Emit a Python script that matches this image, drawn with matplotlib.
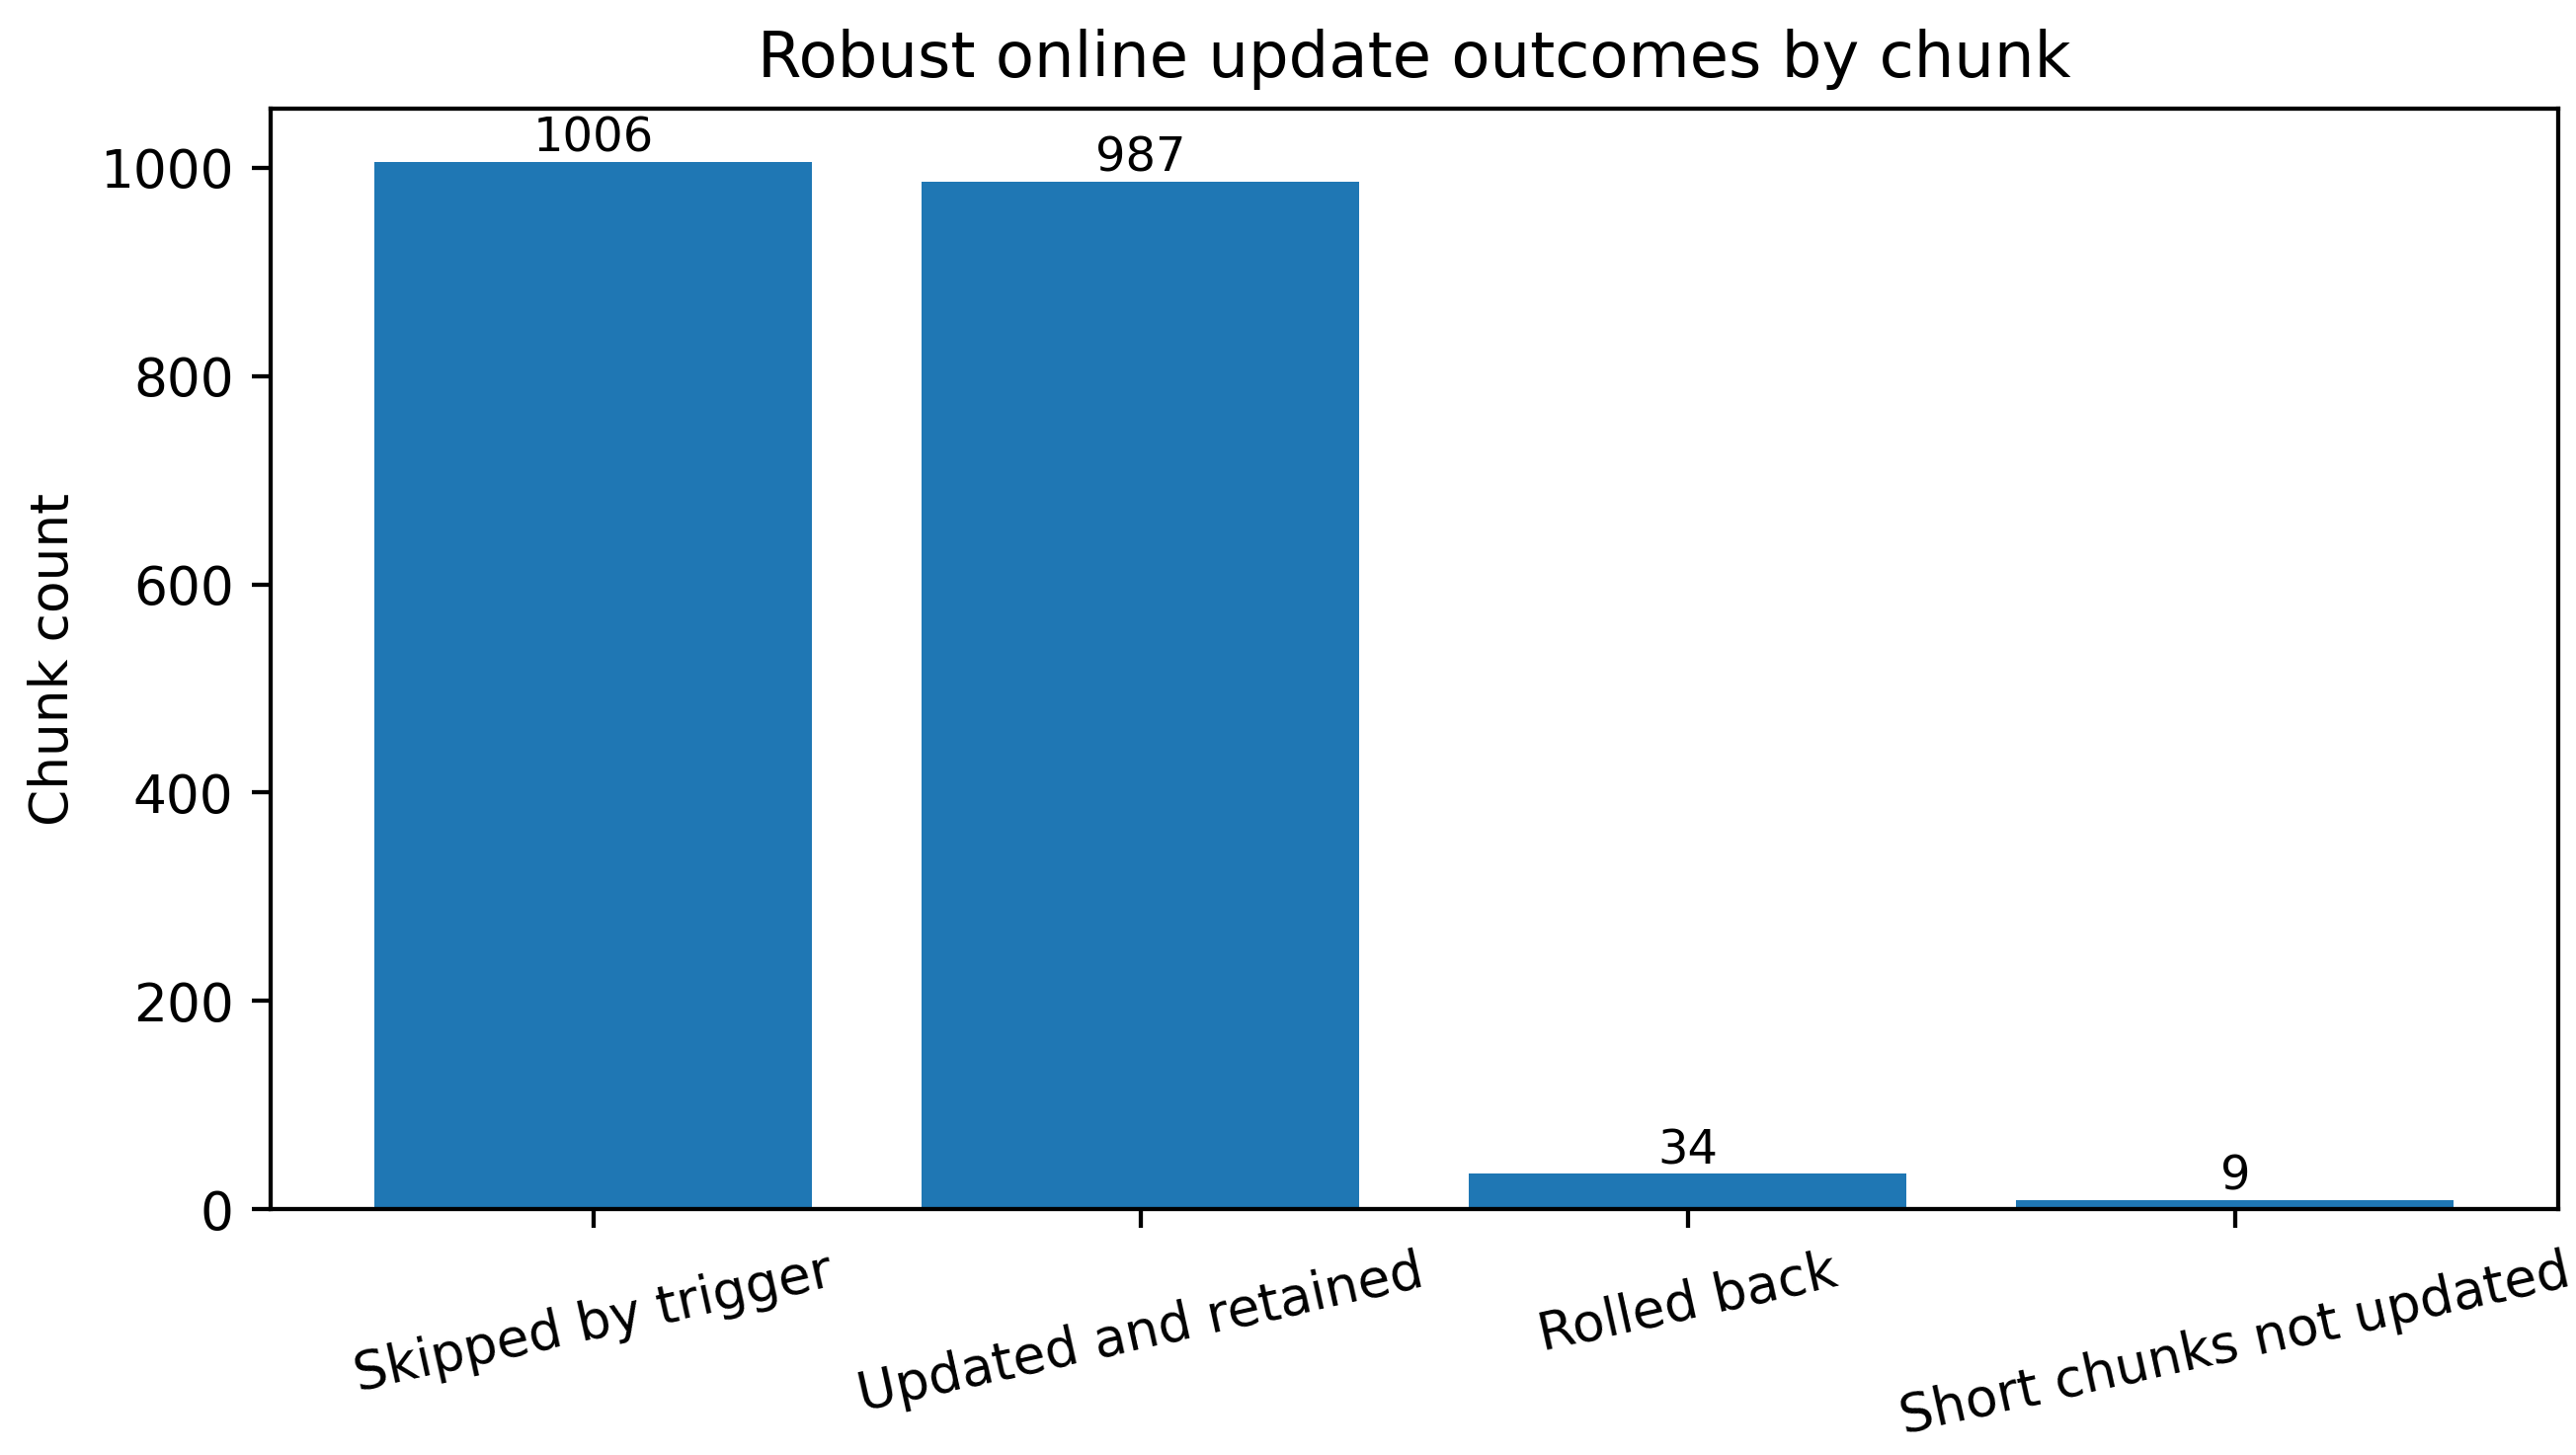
import matplotlib
matplotlib.use("Agg")
import matplotlib.pyplot as plt

categories = ["Skipped by trigger", "Updated and retained", "Rolled back", "Short chunks not updated"]
counts = [1006, 987, 34, 9]

DPI = 384
fig = plt.figure(figsize=(2608 / DPI, 1473 / DPI), dpi=DPI)
ax = fig.add_axes([0.105, 0.169, 0.888, 0.756])

bars = ax.bar(categories, counts, color="#1f77b4")
ax.bar_label(bars, labels=[str(c) for c in counts], fontsize=9)

ax.set_title("Robust online update outcomes by chunk", fontsize=12)
ax.set_ylabel("Chunk count")
plt.setp(ax.get_xticklabels(), rotation=12.5)

fig.savefig("out.png", dpi=DPI)
